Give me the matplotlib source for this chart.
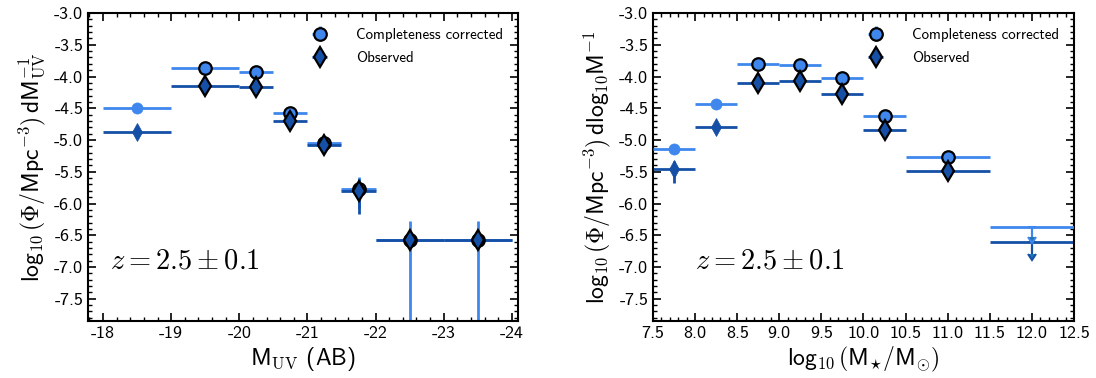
import matplotlib
matplotlib.use("Agg")
import matplotlib.pyplot as plt
import numpy as np
from matplotlib.ticker import MultipleLocator, FormatStrFormatter

plt.rcParams["font.family"] = ["cmss10", "DejaVu Sans"]
plt.rcParams["mathtext.fontset"] = "cm"
plt.rcParams["axes.unicode_minus"] = False
plt.rcParams["axes.formatter.use_mathtext"] = False

LIGHT = "#3f87ec"
DARK = "#1550a6"

# --- UV luminosity function -------------------------------------------------
muv_lo = [-18.0, -19.0, -20.0, -20.5, -21.0, -21.5, -22.0, -23.0]
muv_hi = [-19.0, -20.0, -20.5, -21.0, -21.5, -22.0, -23.0, -24.0]
muv_corr = [-4.50, -3.86, -3.93, -4.57, -5.05, -5.77, -6.58, -6.58]
muv_corr_err_up = [0.03, 0.03, 0.04, 0.05, 0.06, 0.19, 0.30, 0.30]
muv_corr_err_dn = [0.03, 0.03, 0.04, 0.06, 0.07, 0.30, 5.0, 5.0]
muv_obs = [-4.88, -4.15, -4.17, -4.70, -5.08, -5.80, -6.58, -6.58]
muv_obs_err_up = [0.04, 0.04, 0.05, 0.06, 0.07, 0.18, 0.0, 0.0]
muv_obs_err_dn = [0.04, 0.04, 0.05, 0.07, 0.08, 0.36, 0.0, 0.0]
muv_edge = [False, True, True, True, True, True, True, True]

# --- stellar mass function --------------------------------------------------
sm_lo = [7.5, 8.0, 8.5, 9.0, 9.5, 10.0, 10.5, 11.5]
sm_hi = [8.0, 8.5, 9.0, 9.5, 10.0, 10.5, 11.5, 12.5]
sm_corr = [-5.14, -4.44, -3.80, -3.82, -4.03, -4.62, -5.26, -6.37]
sm_corr_err = [0.06, 0.04, 0.03, 0.03, 0.04, 0.05, 0.07, 0.15]
sm_obs = [-5.46, -4.80, -4.10, -4.07, -4.27, -4.84, -5.49, -6.61]
sm_obs_err_up = [0.13, 0.05, 0.04, 0.04, 0.05, 0.06, 0.08, 0.18]
sm_obs_err_dn = [0.22, 0.05, 0.04, 0.04, 0.05, 0.06, 0.08, 0.18]
sm_edge = [False, False, True, True, True, True, True, True]
sm_uplim = [False, False, False, False, False, False, False, True]


def draw_points(ax, lo, hi, y, ylo, yhi, color, marker, ms_edge, ms_plain,
                edge, uplim=None, z=2):
    lo = np.asarray(lo)
    hi = np.asarray(hi)
    x = 0.5 * (lo + hi)
    xerr = np.abs(hi - lo) / 2.0
    if uplim is None:
        uplim = [False] * len(x)
    for i in range(len(x)):
        if uplim[i]:
            # horizontal bin without caps, then a downward arrow
            ax.errorbar([x[i]], [y[i]], xerr=[xerr[i]], fmt="none",
                        ecolor=color, elinewidth=2, capsize=0, zorder=z)
            ax.errorbar([x[i]], [y[i]], yerr=[[ylo[i]], [0]], uplims=[True],
                        fmt="none", ecolor=color, elinewidth=1.6,
                        capsize=3, capthick=1.5, zorder=z)
            continue
        ax.errorbar([x[i]], [y[i]], xerr=[xerr[i]],
                    yerr=[[ylo[i]], [yhi[i]]], fmt="none", ecolor=color,
                    elinewidth=2, capsize=0, zorder=z)
        if edge[i]:
            ax.plot([x[i]], [y[i]], marker=marker, color=color, ms=ms_edge,
                    mec="black", mew=1.6, ls="none", zorder=4)
        else:
            ax.plot([x[i]], [y[i]], marker=marker, color=color, ms=ms_plain,
                    mec=color, mew=0.5, ls="none", zorder=4)


def add_legend(ax):
    ax.errorbar([np.nan], [np.nan], xerr=[0.1], yerr=[0.1], fmt="o",
                color=LIGHT, ms=9, mec="black", mew=1.6, ecolor=LIGHT,
                elinewidth=2, label="Completeness corrected")
    ax.errorbar([np.nan], [np.nan], xerr=[0.1], yerr=[0.1], fmt="d",
                color=DARK, ms=10, mec="black", mew=1.6, ecolor=DARK,
                elinewidth=2, label="Observed")
    ax.legend(loc="upper right", frameon=False, fontsize=10.8,
              handletextpad=1.7, borderaxespad=0.6, handlelength=1.4,
              labelspacing=0.6)


def style_axes(ax, xmaj, xmin):
    ax.set_ylim(-7.85, -3.0)
    ax.yaxis.set_major_locator(MultipleLocator(0.5))
    ax.yaxis.set_minor_locator(MultipleLocator(0.1))
    ax.yaxis.set_major_formatter(FormatStrFormatter("%.1f"))
    ax.xaxis.set_major_locator(MultipleLocator(xmaj))
    ax.xaxis.set_minor_locator(MultipleLocator(xmin))
    ax.tick_params(which="both", direction="in", top=True, right=True,
                   labelsize=13)
    ax.tick_params(which="major", length=6, width=1.2)
    ax.tick_params(which="minor", length=3, width=1.0)
    for s in ax.spines.values():
        s.set_linewidth(1.5)


fig = plt.figure(figsize=(10.96, 3.78), dpi=100)
ax1 = fig.add_axes([0.0803, 0.1508, 0.3923, 0.8148])
ax2 = fig.add_axes([0.5958, 0.1508, 0.3841, 0.8148])

# Left: UV luminosity function
draw_points(ax1, muv_lo, muv_hi, muv_corr, muv_corr_err_dn, muv_corr_err_up,
            LIGHT, "o", 9, 8, muv_edge, z=2)
draw_points(ax1, muv_lo, muv_hi, muv_obs, muv_obs_err_dn, muv_obs_err_up,
            DARK, "d", 10, 9, muv_edge, z=3)
ax1.set_xlim(-17.78, -24.09)
style_axes(ax1, 1, 0.2)
ax1.xaxis.set_major_formatter(FormatStrFormatter("%d"))
ax1.set_xlabel(r"M$_{\rm UV}$ (AB)", fontsize=17, labelpad=3)
ax1.set_ylabel(r"log$_{10}\,(\Phi/$Mpc$^{-3})\,$dM$_{\rm UV}^{-1}$",
               fontsize=17, labelpad=4)
add_legend(ax1)
ax1.text(0.05, 0.17, r"$z = 2.5 \pm 0.1$", transform=ax1.transAxes,
         fontsize=20.5)

# Right: stellar mass function
draw_points(ax2, sm_lo, sm_hi, sm_corr, sm_corr_err, sm_corr_err,
            LIGHT, "o", 9, 8, sm_edge, uplim=sm_uplim, z=3)
draw_points(ax2, sm_lo, sm_hi, sm_obs, sm_obs_err_dn, sm_obs_err_up,
            DARK, "d", 10, 9, sm_edge, uplim=sm_uplim, z=2)
ax2.set_xlim(7.5, 12.5)
style_axes(ax2, 0.5, 0.1)
ax2.xaxis.set_major_formatter(FormatStrFormatter("%.1f"))
ax2.set_xlabel(r"log$_{10}\,($M$_{\star}/$M$_{\odot})$", fontsize=17,
               labelpad=3)
ax2.set_ylabel(r"log$_{10}\,(\Phi/$Mpc$^{-3})\,$dlog$_{10}$M$^{-1}$",
               fontsize=17, labelpad=4)
add_legend(ax2)
ax2.text(0.10, 0.17, r"$z = 2.5 \pm 0.1$", transform=ax2.transAxes,
         fontsize=20.5)

fig.savefig("out.png", dpi=100)
